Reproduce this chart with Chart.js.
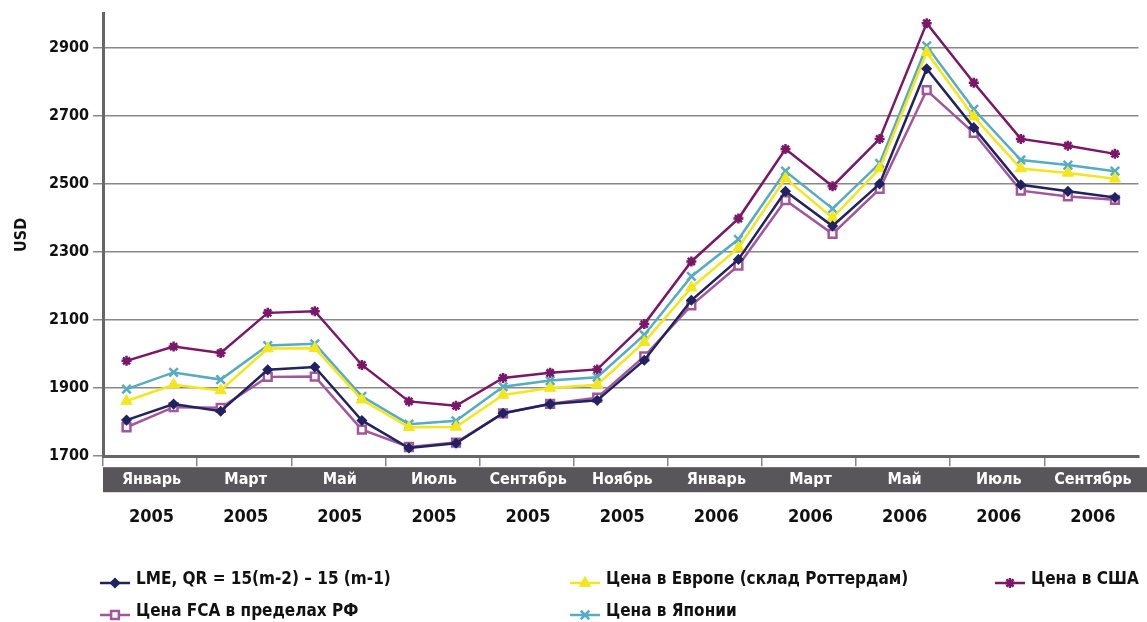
<!DOCTYPE html>
<html>
<head>
<meta charset="utf-8">
<script src="https://cdn.jsdelivr.net/npm/chart.js@4/dist/chart.umd.min.js"></script>
<style>
    html, body { margin: 0; padding: 0; background: #fff; }
    #wrap { position: relative; width: 1147px; height: 622px; }
</style>
</head>
<body>
<div id="wrap"><canvas id="grafico"></canvas></div>
<script>
// Месяцы: январь 2005 - октябрь 2006
var meses = ['Январь', 'Февраль', 'Март', 'Апрель', 'Май', 'Июнь', 'Июль', 'Август', 'Сентябрь', 'Октябрь', 'Ноябрь', 'Декабрь',
    'Январь', 'Февраль', 'Март', 'Апрель', 'Май', 'Июнь', 'Июль', 'Август', 'Сентябрь', 'Октябрь'];
var anios = ['2005', '2005', '2005', '2005', '2005', '2005', '2005', '2005', '2005', '2005', '2005', '2005',
    '2006', '2006', '2006', '2006', '2006', '2006', '2006', '2006', '2006', '2006'];
var yTicks = [1700, 1900, 2100, 2300, 2500, 2700, 2900];

var lme = [1806, 1853, 1832, 1954, 1962, 1805, 1724, 1738, 1826, 1853, 1864, 1982, 2158, 2278, 2478, 2376, 2500, 2838, 2665, 2497, 2478, 2460];
var europa = [1862, 1910, 1893, 2016, 2017, 1866, 1785, 1786, 1880, 1900, 1910, 2035, 2195, 2312, 2516, 2400, 2545, 2886, 2697, 2545, 2532, 2515];
var usa = [1980, 2022, 2003, 2121, 2126, 1968, 1861, 1848, 1930, 1945, 1955, 2088, 2272, 2398, 2602, 2493, 2632, 2972, 2797, 2632, 2612, 2588];
var fca = [1785, 1844, 1842, 1933, 1934, 1778, 1727, 1740, 1826, 1854, 1872, 1993, 2143, 2260, 2452, 2353, 2485, 2775, 2650, 2480, 2463, 2453];
var japon = [1897, 1946, 1925, 2025, 2030, 1876, 1794, 1804, 1904, 1922, 1932, 2056, 2228, 2337, 2537, 2427, 2560, 2905, 2719, 2570, 2555, 2537];

var nombres = ['LME, QR = 15(m-2) \u2013 15 (m-1)', 'Цена в Европе (склад Роттердам)', 'Цена в США', 'Цена FCA в пределах РФ', 'Цена в Японии'];

var fuente = '"DejaVu Sans Condensed", "Liberation Sans Narrow", sans-serif';

function serie(label, datos, color, estilo, radio, relleno, borde) {
    return {
        label: label,
        data: datos,
        borderColor: color,
        backgroundColor: relleno,
        borderWidth: 2.5,
        pointStyle: estilo,
        pointRadius: radio,
        pointHoverRadius: radio,
        pointBorderColor: color,
        pointBackgroundColor: relleno,
        pointBorderWidth: borde,
        tension: 0
    };
}

var datasets = [
    serie(nombres[0], lme, '#20235f', 'rectRot', 4.5, '#20235f', 1.5),
    serie(nombres[1], europa, '#f3e61c', 'triangle', 6.5, '#f3e61c', 1),
    serie(nombres[2], usa, '#7a1769', 'star', 5, '#7a1769', 2.5),
    serie(nombres[3], fca, '#a3569c', 'rect', 5.5, '#ffffff', 2.5),
    serie(nombres[4], japon, '#55acc4', 'crossRot', 6, '#55acc4', 2.5)
];

// franja gris detras de los meses
var franja = {
    id: 'franja',
    beforeDraw: function (chart) {
        var x = chart.scales.x;
        var ctx = chart.ctx;
        ctx.save();
        ctx.fillStyle = '#58565b';
        ctx.fillRect(x.left, x.top + 11, chart.width - x.left, 25);
        ctx.restore();
    }
};

// leyenda en columnas como el original
var leyenda = {
    id: 'leyenda',
    afterDraw: function (chart) {
        var ctx = chart.ctx;
        var lugares = [[100, 580], [570, 580], [995, 580], [100, 612], [570, 612]];
        ctx.save();
        chart.data.datasets.forEach(function (ds, i) {
            var px = lugares[i][0], py = lugares[i][1];
            ctx.strokeStyle = ds.borderColor;
            ctx.lineWidth = 2.5;
            ctx.beginPath();
            ctx.moveTo(px, py + 3);
            ctx.lineTo(px + 30, py + 3);
            ctx.stroke();
            ctx.fillStyle = ds.pointBackgroundColor;
            ctx.strokeStyle = ds.pointBorderColor;
            ctx.lineWidth = ds.pointBorderWidth;
            Chart.helpers.drawPoint(ctx, { pointStyle: ds.pointStyle, radius: ds.pointRadius, borderWidth: ds.pointBorderWidth, rotation: 0 }, px + 15, py + 3);
            ctx.fillStyle = '#111';
            ctx.font = 'bold 17px ' + fuente;
            ctx.textBaseline = 'middle';
            ctx.textAlign = 'left';
            ctx.fillText(ds.label, px + 36, py);
        });
        ctx.restore();
    }
};

var ctx = document.getElementById('grafico').getContext('2d');
var grafico = new Chart(ctx, {
    type: 'line',
    data: { labels: meses, datasets: datasets },
    plugins: [franja, leyenda],
    options: {
        responsive: true,
        maintainAspectRatio: false,
        animation: false,
        layout: { padding: { top: 12, right: 7, bottom: 81, left: 0 } },
        plugins: { legend: { display: false }, tooltip: { enabled: false } },
        scales: {
            x: {
                type: 'category',
                offset: true,
                border: { display: true, color: '#666', width: 3 },
                grid: {
                    offset: true,
                    drawOnChartArea: false,
                    drawTicks: true,
                    tickLength: 10,
                    lineWidth: 1.5,
                    color: function (c) { return c.index % 2 === 0 ? '#888' : 'rgba(0,0,0,0)'; }
                },
                ticks: {
                    autoSkip: false,
                    maxRotation: 0,
                    minRotation: 0,
                    padding: 4,
                    labelOffset: 25,
                    color: '#ffffff',
                    font: { family: fuente, size: 16, weight: 'bold' },
                    callback: function (v, i) { return i % 2 === 0 ? meses[i] : ''; }
                }
            },
            x2: {
                type: 'category',
                labels: anios,
                position: 'bottom',
                offset: true,
                border: { display: false },
                grid: { display: false, drawTicks: false },
                ticks: {
                    autoSkip: false,
                    maxRotation: 0,
                    minRotation: 0,
                    padding: 13,
                    labelOffset: 25,
                    color: '#111',
                    font: { family: fuente, size: 18, weight: 'bold' },
                    callback: function (v, i) { return i % 2 === 0 ? anios[i] : ''; }
                }
            },
            y: {
                min: 1700,
                max: 3000,
                afterBuildTicks: function (s) { s.ticks = yTicks.map(function (v) { return { value: v }; }); },
                afterFit: function (s) { s.width = 103; },
                border: { display: true, color: '#666', width: 3 },
                grid: { color: '#888', lineWidth: 1.5, tickLength: 10 },
                ticks: {
                    padding: 4,
                    color: '#111',
                    font: { family: fuente, size: 16, weight: 'bold' },
                    callback: function (v) { return String(v); }
                },
                title: {
                    display: true,
                    text: 'USD',
                    color: '#111',
                    padding: { top: 12, bottom: 0 },
                    font: { family: fuente, size: 16, weight: 'bold' }
                }
            }
        }
    }
});
</script>
</body>
</html>
